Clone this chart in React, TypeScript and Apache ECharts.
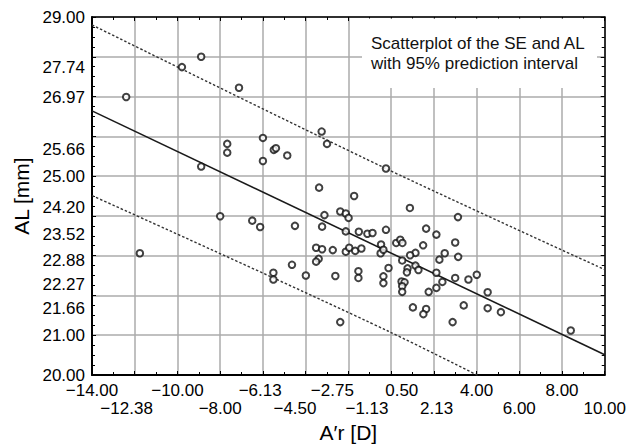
import React, { useEffect, useRef } from 'react';
import * as echarts from 'echarts';

// Tick labels (irregular positions as on the original)
const X_LABELS_ROW1 = [-14, -10, -6.13, -2.75, 0.5, 4, 8];
const X_LABELS_ROW2 = [-12.38, -8, -4.5, -1.13, 2.13, 6, 10];
const Y_LABELS = [20, 21, 21.66, 22.27, 22.88, 23.52, 24.2, 25, 25.66, 26.97, 27.74, 29];

// Scatter data: A'r [D] and AL [mm]
const arValues = [
  -12.4, -9.79, -8.89, -7.12, -7.67, -7.67, -8.89, -6.0, -6.0, -8.0,
  -11.76, -6.5, -6.13, -5.49, -5.39, -4.86, -3.25, -3.0, -0.24, -3.37,
  -1.73, -2.38, -2.12, -1.99, -3.12, -4.5, -3.23, -2.12, -1.51, -1.11,
  -0.87, -0.24, -3.51, -3.23, -2.73, -2.12, -1.96, -1.68, -1.39, -0.47,
  -0.49, -0.36, -3.39, -3.51, -4.64, -5.51, -5.51, -3.99, -2.61, -1.53,
  -1.53, -0.36, -0.36, -0.12, -2.38, 1.64, 2.12, 0.24, 0.43, 0.53,
  1.5, 3.0, 2.51, 3.14, 1.14, 0.89, 0.52, 2.26, 0.77, 1.14,
  1.28, 0.74, 2.12, 2.4, 3.0, 3.62, 4.01, 0.49, 0.63, 0.52,
  0.52, 1.76, 2.12, 4.52, 1.02, 1.64, 1.51, 3.4, 4.52, 5.14,
  2.88, 3.13, 0.88, 8.41,
];
const alValues = [
  26.99, 27.74, 28.0, 27.22, 25.81, 25.59, 25.24, 25.96, 25.38, 23.99,
  23.06, 23.88, 23.72, 25.66, 25.7, 25.52, 26.12, 25.81, 25.19, 24.71,
  24.5, 24.11, 24.06, 23.95, 24.02, 23.75, 23.73, 23.61, 23.6, 23.55,
  23.57, 23.65, 23.2, 23.16, 23.14, 23.1, 23.2, 23.12, 23.18, 23.28,
  23.06, 23.15, 22.92, 22.85, 22.77, 22.57, 22.4, 22.5, 22.49, 22.61,
  22.44, 22.48, 22.31, 22.69, 21.33, 23.68, 23.53, 23.32, 23.4, 23.32,
  23.26, 23.33, 23.06, 22.97, 23.07, 23.01, 22.88, 22.9, 22.68, 22.75,
  22.64, 22.58, 22.57, 22.34, 22.44, 22.4, 22.52, 22.35, 22.33, 22.23,
  22.09, 22.09, 22.19, 22.08, 21.7, 21.66, 21.53, 21.75, 21.68, 21.58,
  21.33, 23.97, 24.2, 21.12,
];

// Regression line and 95% prediction interval
const fitLine = [[-14, 26.64], [10, 20.51]];
const upperPI = [[-14, 28.8], [-0.24, 25.19], [10, 22.65]];
const lowerPI = [[-14, 24.51], [-0.13, 21.1], [10, 18.37]];

const FONT = 'Arial, "Liberation Sans", Helvetica, sans-serif';

const fmt = (v: number) => (v < 0 ? '\u2212' : '') + Math.abs(v).toFixed(2);

export default function App() {
  const ref = useRef<HTMLDivElement>(null);

  useEffect(() => {
    if (!ref.current) return;
    const chart = echarts.init(ref.current, undefined, { renderer: 'svg' });

    const tickLine = { color: '#000', width: 1 };
    const labelStyle = { fontSize: 17, color: '#000', fontFamily: FONT };

    const xMain = {
      type: 'value',
      min: -14,
      max: 10,
      interval: 2,
      position: 'bottom',
      axisLine: { show: true, onZero: false, lineStyle: { color: '#000', width: 2 } },
      axisTick: { show: true, inside: true, length: 4, lineStyle: tickLine },
      minorTick: { show: true, splitNumber: 2, length: 3, lineStyle: tickLine },
      splitLine: { show: true, lineStyle: { color: '#ababab', width: 1.5 } },
      axisLabel: {
        customValues: X_LABELS_ROW1,
        formatter: (v: number) => fmt(v),
        showMinLabel: true,
        showMaxLabel: true,
        margin: 8,
        lineHeight: 14,
        ...labelStyle,
      },
      name: 'A\u2032r [D]',
      nameLocation: 'middle',
      nameGap: 47,
      nameTextStyle: { fontSize: 21, color: '#000', fontFamily: FONT },
    };
    const xRow2 = {
      type: 'value',
      min: -14,
      max: 10,
      interval: 2,
      position: 'bottom',
      offset: 0,
      axisLine: { show: false },
      axisTick: { show: false },
      minorTick: { show: false },
      splitLine: { show: false },
      axisLabel: {
        customValues: X_LABELS_ROW2,
        formatter: (v: number) => fmt(v),
        showMinLabel: true,
        showMaxLabel: true,
        margin: 26,
        lineHeight: 14,
        ...labelStyle,
      },
    };
    const xTop = {
      type: 'value',
      min: -14,
      max: 10,
      interval: 2,
      position: 'top',
      axisLine: { show: true, onZero: false, lineStyle: { color: '#000', width: 1.5 } },
      axisTick: { show: true, inside: true, length: 4, lineStyle: tickLine },
      minorTick: { show: true, splitNumber: 2, length: 3, lineStyle: tickLine },
      splitLine: { show: false },
      axisLabel: { show: false },
    };
    const yMain = {
      type: 'value',
      min: 20,
      max: 29,
      interval: 1,
      position: 'left',
      axisLine: { show: true, onZero: false, lineStyle: { color: '#000', width: 2 } },
      axisTick: { show: true, inside: true, length: 4, lineStyle: tickLine },
      minorTick: { show: true, splitNumber: 4, length: 3, lineStyle: tickLine },
      splitLine: { show: true, lineStyle: { color: '#ababab', width: 1.5 } },
      axisLabel: {
        customValues: Y_LABELS,
        formatter: (v: number) => fmt(v),
        showMinLabel: true,
        showMaxLabel: true,
        margin: 7,
        lineHeight: 13,
        ...labelStyle,
      },
      name: 'AL [mm]',
      nameLocation: 'middle',
      nameGap: 56,
      nameTextStyle: { fontSize: 21, color: '#000', fontFamily: FONT },
    };
    const yRight = {
      type: 'value',
      min: 20,
      max: 29,
      interval: 1,
      position: 'right',
      axisLine: { show: true, onZero: false, lineStyle: { color: '#000', width: 1.5 } },
      axisTick: { show: true, inside: true, length: 4, lineStyle: tickLine },
      minorTick: { show: true, splitNumber: 4, length: 3, lineStyle: tickLine },
      splitLine: { show: false },
      axisLabel: { show: false },
    };

    const points = arValues.map((x, i) => [x, alValues[i]]);

    chart.setOption({
      animation: false,
      backgroundColor: '#fff',
      grid: { left: 92, top: 17, right: 21, bottom: 73, show: false },
      xAxis: [xMain, xTop, xRow2],
      yAxis: [yMain, yRight],
      series: [
        {
          type: 'line',
          data: fitLine,
          xAxisIndex: 0,
          yAxisIndex: 0,
          symbol: 'none',
          lineStyle: { color: '#1a1a1a', width: 1.6 },
          z: 2,
        },
        {
          type: 'line',
          data: upperPI,
          xAxisIndex: 0,
          yAxisIndex: 0,
          symbol: 'none',
          smooth: 0.3,
          lineStyle: { color: '#333', width: 1.4, type: [2.5, 2] },
          z: 2,
        },
        {
          type: 'line',
          data: lowerPI,
          xAxisIndex: 0,
          yAxisIndex: 0,
          symbol: 'none',
          smooth: 0.3,
          clip: true,
          lineStyle: { color: '#333', width: 1.4, type: [2.5, 2] },
          z: 2,
        },
        {
          type: 'scatter',
          data: points,
          xAxisIndex: 0,
          yAxisIndex: 0,
          symbol: 'emptyCircle',
          symbolSize: 6.5,
          itemStyle: { color: '#111', borderWidth: 1.2 },
          z: 3,
        },
      ],
      graphic: [
        {
          type: 'rect',
          z: 1,
          shape: { x: 362, y: 18.5, width: 235, height: 69.5 },
          style: { fill: '#fff' },
        },
        {
          type: 'text',
          z: 4,
          x: 371,
          y: 33,
          style: {
            text: 'Scatterplot of the SE and AL\nwith 95% prediction interval',
            font: `17px ${FONT}`,
            lineHeight: 20,
            fill: '#111',
          },
        },
      ],
    });

    return () => chart.dispose();
  }, []);

  return (
    <div
      ref={ref}
      style={{ position: 'fixed', left: 0, top: 0, width: 629, height: 448, background: '#fff' }}
    />
  );
}
